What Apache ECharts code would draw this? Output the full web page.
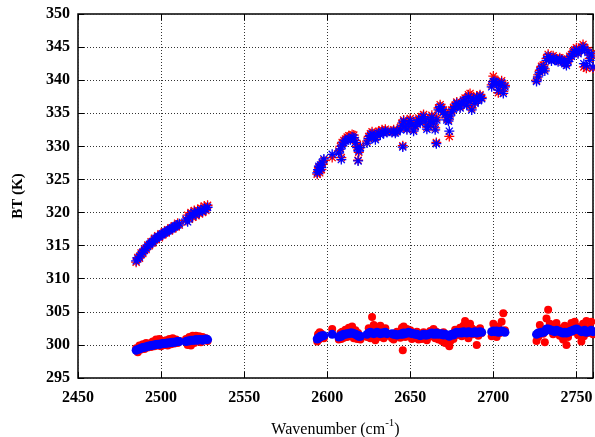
<!DOCTYPE html>
<html>
<head>
<meta charset="utf-8">
<script src="https://cdn.jsdelivr.net/npm/echarts@6/dist/echarts.min.js"></script>
<style>html,body{margin:0;padding:0;background:#fff}#c{width:595px;height:437px}</style>
</head>
<body>
<div id="c"></div>
<script>
var wavenumber = [
2485,2486,2487,2488,2489,2490,2491,2492,2493,2494,2495,2496,2497,2498,2499,2500,2501,2502,2503,2504,2505,2506,2507,2508,2509,2510,2511,
2515,2516,2517,2518,2519,2520,2521,2522,2523,2524,2525,2526,2527,2528,
2594,2594.5,2595,2595.5,2596,2596.5,2597,2598,2603,
2607,2608,2608.5,2609,2610,2611,2612,2613,2614,2615,2616,2617,2618,2618.6,2619,2620,
2624,2625,2626,2627,2628,2629,2630,2631,2632,2633,2634,2635,2636,
2639,2640,2641,2642,
2644,2645,2645.5,2646,2647,2648,2649,2650,2651,2652,2653,2654,2655,
2656,2657,2658,2659,2660,2661,2662,2663,2664,2665,2665.7,2666,2667,
2668,2669,2670,2671,2672,2673,2673.5,2674,2675,2676,
2677,2678,2679,2680,2681,2682,
2683,2684,2685,2686,2687,2688,2689,2690,2691,2692,2693,
2699,2700,2701,2702,2703,2704,2705,2706,2707,
2726,2727,2728,2729,2730,2731,
2732,2733,2734,2735,2736,2737,
2738,2739,2740,2741,2742,2743,
2744,2745,2746,2747,2748,2749,2750,2751,
2753,2754,2754.5,2755,2756,2757,2758,2759,2760
];
var btUpperBlue = [
312.7,313.0,313.3,313.7,314.0,314.3,314.6,314.9,315.2,315.4,315.6,315.9,316.1,316.3,316.4,316.6,316.8,316.9,317.1,317.2,317.4,317.5,317.7,317.8,318.0,318.1,318.3,
319.0,318.6,319.2,319.8,319.5,320.0,319.7,320.2,320.0,320.4,320.2,320.6,320.5,320.8,
326.0,326.5,327.0,326.3,327.2,326.8,327.5,328.1,328.8,
329.0,329.6,328.0,330.2,330.5,330.8,331.0,331.2,331.0,331.4,331.3,330.6,329.8,327.8,329.3,329.8,
330.5,331.2,331.6,331.9,331.4,331.0,331.8,332.0,331.7,332.2,332.0,332.3,332.1,
332.1,332.3,332.0,332.2,
332.5,333.2,329.9,333.8,333.0,332.5,333.5,333.9,333.2,332.3,333.0,333.6,334.0,
333.5,334.2,334.5,333.8,332.6,333.0,333.8,334.4,333.5,332.5,330.4,334.0,335.5,
336.0,335.6,335.2,334.8,334.0,333.8,332.3,334.6,335.2,335.6,
336.0,336.5,336.2,335.8,336.4,336.8,
337.0,336.2,337.5,336.8,335.5,337.2,336.5,337.4,336.9,337.6,337.2,
339.0,339.8,339.8,339.5,338.5,339.2,339.6,338.0,339.0,
339.8,340.5,341.2,341.8,342.0,341.4,
343.0,343.6,343.2,342.9,343.4,343.1,
343.0,342.8,343.2,343.0,342.7,342.5,
342.2,342.8,343.3,343.6,344.0,344.3,344.6,344.0,
344.5,345.0,342.5,344.6,342.2,344.2,343.0,343.8,342.0
];
var btUpperRed = [
312.5,313.2,313.1,313.9,313.8,314.5,314.4,315.1,315.0,315.6,315.4,316.1,315.9,316.5,316.2,316.8,316.6,317.1,316.9,317.4,317.2,317.7,317.5,318.0,317.8,318.4,318.1,
318.8,319.6,319.0,320.0,319.3,320.3,319.5,320.4,319.8,320.7,320.0,321.0,320.3,321.1,
325.8,326.2,326.8,326.0,327.0,326.5,327.3,327.9,328.3,
329.3,330.0,328.3,330.6,330.9,331.1,331.4,331.6,331.5,331.8,331.7,330.9,330.0,327.9,329.1,330.1,
330.8,331.5,331.9,332.2,331.7,331.3,332.1,332.3,332.0,332.5,332.3,332.6,332.3,
332.3,332.5,332.2,332.4,
332.8,333.5,330.1,334.0,333.3,332.7,333.8,334.2,333.5,332.5,333.2,333.9,334.3,
333.8,334.5,334.8,334.0,332.9,333.3,334.1,334.7,333.8,332.8,330.6,334.3,335.8,
336.3,335.9,335.5,335.0,334.3,334.0,331.5,334.9,335.5,335.9,
336.2,336.7,336.4,336.0,336.6,337.0,
337.3,336.4,337.8,338.0,335.8,337.5,336.7,337.6,337.1,337.8,337.4,
339.3,340.6,340.0,339.8,338.1,339.5,339.9,338.3,339.2,
340.0,340.8,341.5,342.1,342.3,341.7,
343.3,343.9,343.5,343.2,343.7,343.4,
343.2,343.0,343.4,343.2,342.9,342.7,
342.5,343.1,343.6,343.9,344.3,344.6,344.9,344.2,
345.0,345.4,342.0,344.9,341.8,344.5,343.3,344.0,341.8
];
var btLowerBlue = [
299.2,299.3,299.4,299.5,299.6,299.65,299.7,299.8,299.85,299.9,299.95,300.0,300.05,300.1,300.1,300.15,300.2,300.2,300.25,300.3,300.3,300.35,300.4,300.4,300.45,300.5,300.5,
300.5,300.6,300.6,300.7,300.7,300.7,300.8,300.7,300.8,300.8,300.7,300.8,300.9,300.8,
300.9,301.0,301.1,301.2,301.3,301.3,301.4,301.4,301.6,
301.2,301.4,301.3,301.5,301.6,301.6,301.7,301.7,301.8,301.8,301.7,301.6,301.5,301.4,301.3,301.3,
301.6,301.8,301.9,301.8,301.7,301.8,301.9,301.8,301.7,301.8,301.8,301.9,301.7,
301.7,301.6,301.6,301.5,
301.6,301.7,301.6,301.8,301.7,301.8,301.9,301.8,301.7,301.7,301.6,301.6,301.5,
301.4,301.5,301.6,301.5,301.5,301.6,301.7,301.8,301.6,301.7,301.8,301.6,301.7,
301.6,301.7,301.5,301.6,301.5,301.4,301.3,301.5,301.6,301.5,
301.8,301.9,301.8,301.9,301.8,302.0,
301.9,301.8,302.0,301.9,301.8,301.9,302.0,301.8,301.9,302.0,301.9,
302.0,302.1,302.0,302.1,301.9,302.0,302.1,302.0,301.9,
301.6,301.8,301.8,301.9,301.9,302.0,
302.4,302.4,302.3,302.2,302.1,302.0,
302.2,302.1,302.0,301.9,301.8,301.9,
301.8,301.9,302.0,302.1,302.2,302.3,302.4,302.3,
302.0,302.1,302.0,302.2,301.9,302.0,302.1,302.2,302.0
];
var btLowerRed = [
299.5,298.9,299.9,299.3,300.1,299.4,300.3,299.6,300.2,299.7,300.5,299.8,300.8,299.9,300.9,299.8,300.6,300.0,300.7,299.9,300.9,300.1,301.0,300.2,300.8,300.3,300.6,
300.9,300.0,301.2,299.9,301.4,300.3,301.4,300.6,301.3,300.4,301.2,300.8,301.0,300.6,
300.5,301.6,300.8,301.9,301.0,301.7,301.2,301.0,302.4,
300.8,301.8,300.9,302.0,301.1,302.3,301.2,302.6,301.4,302.8,301.0,302.2,300.9,301.8,301.1,300.8,
301.2,302.5,301.0,304.2,303.0,300.7,302.4,301.2,302.9,302.1,301.0,302.5,301.4,
301.0,300.8,301.5,302.0,
301.1,302.6,299.2,302.8,301.2,302.4,301.6,302.2,300.9,301.8,301.1,302.0,300.8,
301.3,300.9,301.9,301.2,300.7,301.7,302.1,301.3,302.4,301.0,302.0,301.4,300.8,
301.2,300.6,301.9,300.3,301.0,300.1,299.8,300.5,301.2,300.9,
302.3,301.5,302.0,302.6,301.3,302.9,
303.6,302.2,301.0,303.2,302.5,301.6,302.2,300.0,301.4,302.5,301.8,
301.3,303.2,302.5,301.2,302.8,301.8,303.5,304.8,302.2,
300.6,301.2,303.0,302.3,301.7,300.4,
304.0,305.3,303.2,302.8,301.6,302.5,
303.3,302.6,301.4,302.2,300.8,302.9,
300.0,301.2,302.7,303.3,302.0,303.5,302.8,301.5,
300.5,303.2,301.3,302.5,303.6,301.8,302.6,303.5,301.6
];
var xTicks = [2450, 2500, 2550, 2600, 2650, 2700, 2750];
var yTicks = [295, 300, 305, 310, 315, 320, 325, 330, 335, 340, 345, 350];

function zip(xs, ys) { return xs.map(function (x, i) { return [x, ys[i]]; }); }

var asterisk = 'path://M-1.3,-10 L1.3,-10 L1.3,10 L-1.3,10 Z M-10,-1.3 L10,-1.3 L10,1.3 L-10,1.3 Z ' +
  'M-6.15,-7.99 L7.99,6.15 L6.15,7.99 L-7.99,-6.15 Z M-7.99,6.15 L6.15,-7.99 L7.99,-6.15 L-6.15,7.99 Z';

var labelFont = { fontFamily: 'Liberation Serif', fontWeight: 'bold', fontSize: 16, color: '#000' };
var gridLine = { show: true, lineStyle: { color: '#333', type: [1, 2], width: 1 } };

var chart = echarts.init(document.getElementById('c'), null, { renderer: 'canvas' });
chart.setOption({
  animation: false,
  backgroundColor: '#fff',
  grid: { left: 78, right: 2, top: 14, bottom: 59, containLabel: false, outerBoundsMode: 'none', show: true, borderColor: '#000', borderWidth: 1.5, backgroundColor: 'transparent' },
  xAxis: [{
    type: 'value', min: 2450, max: 2760, interval: 50,
    axisLine: { show: false },
    axisTick: { show: true, inside: true, length: 6, lineStyle: { color: '#000' } },
    axisLabel: Object.assign({ margin: 12, formatter: function (v) { return xTicks.indexOf(v) >= 0 ? String(v) : ''; } }, labelFont),
    splitLine: gridLine,
    name: '{a|Wavenumber (cm}{s|-1}{a|)}',
    nameLocation: 'middle', nameGap: 40,
    nameTextStyle: { rich: {
      a: { fontFamily: 'Liberation Serif', fontSize: 16, color: '#000', verticalAlign: 'bottom', lineHeight: 20 },
      s: { fontFamily: 'Liberation Serif', fontSize: 11, color: '#000', verticalAlign: 'top', padding: [0, 0, 9, 0], lineHeight: 20 }
    } }
  }, {
    type: 'value', min: 2450, max: 2760, interval: 50, position: 'top',
    axisLine: { show: false },
    axisTick: { show: true, inside: true, length: 6, lineStyle: { color: '#000' } },
    axisLabel: { show: false }, splitLine: { show: false }
  }],
  yAxis: [{
    type: 'value', min: 295, max: 350, interval: 5,
    axisLine: { show: false },
    axisTick: { show: true, inside: true, length: 6, lineStyle: { color: '#000' } },
    axisLabel: Object.assign({ margin: 8, formatter: function (v) { return yTicks.indexOf(v) >= 0 ? String(v) : ''; } }, labelFont),
    splitLine: gridLine,
    name: 'BT (K)', nameLocation: 'middle', nameGap: 52,
    nameTextStyle: { fontFamily: 'Liberation Serif', fontWeight: 'bold', fontSize: 15, color: '#000' }
  }, {
    type: 'value', min: 295, max: 350, interval: 5, position: 'right',
    axisLine: { show: false },
    axisTick: { show: true, inside: true, length: 6, lineStyle: { color: '#000' } },
    axisLabel: { show: false }, splitLine: { show: false }
  }],
  series: [
    { type: 'scatter', data: zip(wavenumber, btUpperRed), symbol: asterisk, symbolSize: 10, itemStyle: { color: '#ff0000', opacity: 1 }, silent: true },
    { type: 'scatter', data: zip(wavenumber, btUpperBlue), symbol: asterisk, symbolSize: 10, itemStyle: { color: '#0000ff', opacity: 1 }, silent: true },
    { type: 'scatter', data: zip(wavenumber, btLowerRed), symbol: 'circle', symbolSize: 8, itemStyle: { color: '#ff0000', opacity: 1 }, silent: true },
    { type: 'scatter', data: zip(wavenumber, btLowerBlue), symbol: 'circle', symbolSize: 9, itemStyle: { color: '#0000ff', opacity: 1 }, silent: true }
  ]
});
</script>
</body>
</html>
